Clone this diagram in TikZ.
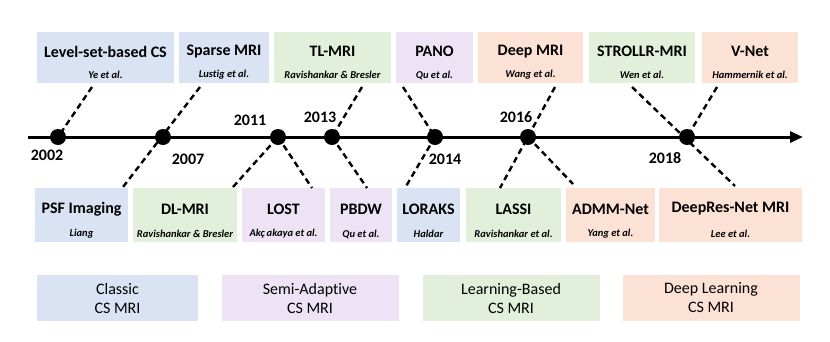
\documentclass[tikz,border=0pt]{standalone}
\usepackage{fontspec}
\setmainfont{Carlito}[Ligatures={NoCommon}]
\usetikzlibrary{arrows.meta,calc}
\definecolor{cblue}{HTML}{DAE3F3}
\definecolor{cpurple}{HTML}{EDE3F5}
\definecolor{cgreen}{HTML}{E2EFDA}
\definecolor{corange}{HTML}{FBE2D5}
\newcommand{\tlbox}[8]{%
  \node[boxsty, fill=#6, minimum width={(#4-#2)*1pt}, minimum height={(#5-#3)*1pt}] (#1) at ({(#2+#4)/2},{(#3+#5)/2}) {};
  \node[titlesty] (#1t) at ($(#1.center)+(0,-6)$) {#7};
  \node[authsty] (#1a) at ($(#1.south)+(0,-8)$) {#8};
}
\begin{document}
\begin{tikzpicture}[x=1pt,y=-1pt,
  boxsty/.style={draw=none, inner sep=0pt, outer sep=0pt},
  titlesty/.style={inner sep=0pt, font=\fontsize{16}{18}\selectfont\bfseries},
  authsty/.style={inner sep=0pt, font=\fontsize{10.5}{12}\selectfont\bfseries\itshape},
  yearsty/.style={inner sep=0pt, font=\fontsize{16}{18}\selectfont\bfseries},
  legsty/.style={inner sep=0pt, align=center, font=\fontsize{16}{19}\selectfont},
  dashln/.style={line width=2.4pt, dash pattern=on 6pt off 4pt},
  dot/.style={circle, fill=black, inner sep=0pt, minimum size=16pt},
  axis/.style={line width=3pt, -{Triangle[length=13pt,width=11pt]}}
]
\useasboundingbox (0,0) rectangle (830,341);

% top boxes
\tlbox{ls}{37}{32}{174}{83}{cblue}{Level-set-based CS}{Ye et al.}
\tlbox{sp}{179}{32}{269}{83}{cblue}{Sparse MRI}{Lustig et al.}
\tlbox{tl}{274}{32}{391}{83}{cgreen}{TL-MRI}{Ravishankar \& Bresler}
\tlbox{pano}{396}{32}{473}{83}{cpurple}{PANO}{Qu et al.}
\tlbox{dm}{478}{32}{583}{83}{corange}{Deep MRI}{Wang et al.}
\tlbox{st}{589}{32}{695}{83}{cgreen}{STROLLR-MRI}{Wen et al.}
\tlbox{vn}{702}{32}{798}{83}{corange}{V-Net}{Hammernik et al.}

% bottom boxes
\tlbox{psf}{35}{188}{128}{242}{cblue}{PSF Imaging}{Liang}
\tlbox{dl}{133}{188}{237}{242}{cgreen}{DL-MRI}{Ravishankar \& Bresler}
\tlbox{lost}{242}{188}{325}{242}{cpurple}{LOST}{Akç\,akaya et al.}
\tlbox{pb}{330}{188}{392}{242}{cpurple}{PBDW}{Qu et al.}
\tlbox{lr}{397}{188}{460}{242}{cblue}{LORAKS}{Haldar}
\tlbox{la}{466}{188}{561}{242}{cgreen}{LASSI}{Ravishankar et al.}
\tlbox{ad}{566}{188}{655}{242}{corange}{ADMM-Net}{Yang et al.}
\tlbox{dr}{659}{188}{802}{242}{corange}{DeepRes-Net MRI}{Lee et al.}

% legend
\node[boxsty, fill=cblue, minimum width=161pt, minimum height=46pt] (lg1) at (117.5,298) {};
\node[legsty] (lg1t) at (lg1.center) {Classic\\CS MRI};
\node[boxsty, fill=cpurple, minimum width=177pt, minimum height=46pt] (lg2) at (310,298) {};
\node[legsty] (lg2t) at (lg2.center) {Semi-Adaptive\\CS MRI};
\node[boxsty, fill=cgreen, minimum width=177pt, minimum height=46pt] (lg3) at (511,298) {};
\node[legsty] (lg3t) at (lg3.center) {Learning-Based\\CS MRI};
\node[boxsty, fill=corange, minimum width=177pt, minimum height=46pt] (lg4) at (711,298) {};
\node[legsty] (lg4t) at (lg4.center) {Deep Learning\\CS MRI};

% timeline points
\coordinate (c2002) at (58,137);
\coordinate (c2007) at (163,137);
\coordinate (c2011) at (278,137);
\coordinate (c2013) at (332,137);
\coordinate (c2014) at (435,137);
\coordinate (c2016) at (528,137);
\coordinate (c2018) at (687,137);
\coordinate (tstart) at (28,137);
\coordinate (tend) at (803,137);

% connector ends
\coordinate (lsE) at (92,87);
\coordinate (spE) at (200,87);
\coordinate (psfE) at (123,187);
\coordinate (dlE) at (233,187);
\coordinate (lostE) at (312,188);
\coordinate (tlE) at (362,87);
\coordinate (pbE) at (367,188);
\coordinate (panoE) at (403,87);
\coordinate (lrE) at (405,188);
\coordinate (dmE) at (555,87);
\coordinate (laE) at (500,188);
\coordinate (adE) at (573,184);
\coordinate (stE) at (632,87);
\coordinate (drE) at (735,186);
\coordinate (vnE) at (717,87);

% dashed connectors
\draw[dashln] (lsE) -- (c2002);
\draw[dashln] (spE) -- (psfE);
\draw[dashln] (dlE) -- (c2011);
\draw[dashln] (c2011) -- (lostE);
\draw[dashln] (tlE) -- (c2013);
\draw[dashln] (c2013) -- (pbE);
\draw[dashln] (panoE) -- (c2014);
\draw[dashln] (c2014) -- (lrE);
\draw[dashln] (dmE) -- (laE);
\draw[dashln] (c2016) -- (adE);
\draw[dashln] (stE) -- (drE);
\draw[dashln] (vnE) -- (c2018);

% axis
\draw[axis] (tstart) -- (tend);

% dots
\foreach \yr in {2002,2007,2011,2013,2014,2016,2018}
  \node[dot] (d\yr) at (c\yr) {};

% years
\node[yearsty] (y2002) at (47,155) {2002};
\node[yearsty] (y2007) at (188,159) {2007};
\node[yearsty] (y2011) at (250,120) {2011};
\node[yearsty] (y2013) at (320,117) {2013};
\node[yearsty] (y2014) at (445,159) {2014};
\node[yearsty] (y2016) at (516,117) {2016};
\node[yearsty] (y2018) at (665,158) {2018};
\end{tikzpicture}
\end{document}
